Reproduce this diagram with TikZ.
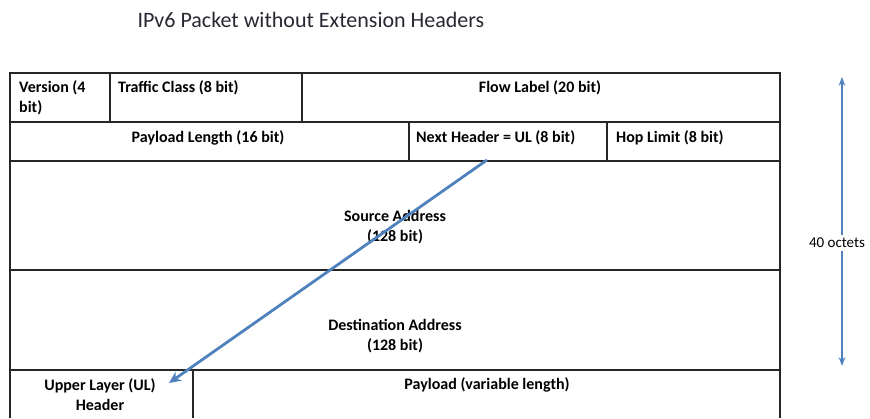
\documentclass[tikz,border=0pt]{standalone}
\usepackage{fontspec}
\setmainfont{Carlito}
\usetikzlibrary{arrows.meta,calc}
\definecolor{ulblue}{RGB}{79,129,189}
\definecolor{titlegray}{RGB}{40,40,50}

\begin{document}
\begin{tikzpicture}[x=1pt, y=-1pt, >=Stealth,
    field/.style={font=\bfseries\fontsize{16}{20}\selectfont, inner sep=0pt},
    grid/.style={line width=1.5pt, draw=black!85}]
    \useasboundingbox (0,0) rectangle (870,419);

    % title
    \node[font=\fontsize{22}{26}\selectfont, text=titlegray, anchor=west] (title) at (134,20) {IPv6 Packet without Extension Headers};

    % table frame and row lines
    \draw[grid] (10,418) -- (10,73) -- (780,73) -- (780,418);
    \draw[grid] (10,122) -- (780,122);
    \draw[grid] (10,161) -- (780,161);
    \draw[grid] (10,270) -- (780,270);
    \draw[grid] (10,370) -- (780,370);

    % column lines
    \draw[grid] (110,73) -- (110,122);
    \draw[grid] (302,73) -- (302,122);
    \draw[grid] (409,122) -- (409,161);
    \draw[grid] (607,122) -- (607,161);
    \draw[grid] (193,370) -- (193,418);

    % first row
    \node[field, anchor=north west, align=left] (ver) at (19,80) {Version (4\\bit)};
    \node[field, anchor=north west] (tc) at (118,80) {Traffic Class (8 bit)};
    \node[field, anchor=north] (fl) at (540,80) {Flow Label (20 bit)};

    % second row
    \node[field, anchor=north] (pl) at (208,130) {Payload Length (16 bit)};
    \node[field, anchor=north west] (nh) at (416,130) {Next Header = UL (8 bit)};
    \node[field, anchor=north west] (hl) at (616,130) {Hop Limit (8 bit)};

    % addresses
    \node[field, align=center] (src) at (395,227) {Source Address\\(128 bit)};
    \node[field, align=center] (dst) at (395,336) {Destination Address\\(128 bit)};

    % upper layer header and payload
    \node[field, align=center] (ul) at (100,395) {Upper Layer (UL)\\Header};
    \node[field, anchor=north] (pay) at (487,377) {Payload (variable length)};

    % next header points to the UL header
    \coordinate (nhfoot) at (487,160);
    \coordinate (ulhead) at (169,383);
    \draw[ulblue, line width=2.8pt, -{Stealth[length=12pt,width=11pt,open,line width=2.2pt]}] (nhfoot) -- (ulhead);

    % total length of the header
    \node[font=\fontsize{15}{18}\selectfont, inner xsep=0pt] (oct) at (837,243) {40 octets};
    \coordinate (octtop) at (842,77);
    \coordinate (octbot) at (842,366);
    \draw[->, ulblue, line width=1.3pt] (octtop |- oct.north) -- (octtop);
    \draw[->, ulblue, line width=1.3pt] (octbot |- oct.south) -- (octbot);
\end{tikzpicture}
\end{document}
